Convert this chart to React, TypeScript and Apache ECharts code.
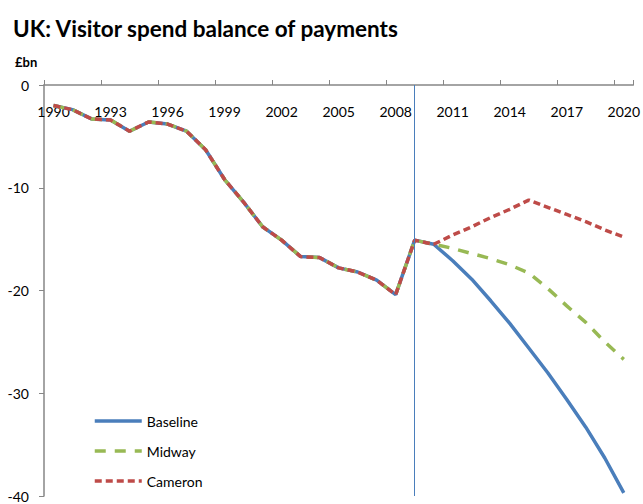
import React, { useEffect, useRef } from "react";
import * as echarts from "echarts";

const years: string[] = [];
for (let y = 1990; y <= 2020; y++) years.push(String(y));

// 1990-2009 (shared history)
const history = [-2.0, -2.4, -3.3, -3.4, -4.5, -3.6, -3.8, -4.5, -6.3, -9.2, -11.4, -13.8, -15.1, -16.7, -16.8, -17.8, -18.2, -19.0, -20.4, -15.1];
// 2010-2020 projections
const baselineProj = [-15.5, -17.1, -18.9, -21.0, -23.2, -25.6, -28.0, -30.6, -33.3, -36.3, -39.7];
const midwayProj = [-15.5, -15.9, -16.4, -16.9, -17.5, -18.3, -19.8, -21.5, -23.1, -25.0, -26.7];
const cameronProj = [-15.5, -14.6, -13.8, -12.9, -12.1, -11.2, -11.9, -12.6, -13.3, -14.1, -14.8];

const seriesNames = ["Baseline", "Midway", "Cameron"];
const markerYear = "2009";

const FONT = "Lato, 'Open Sans', sans-serif";

export default function App() {
  const ref = useRef<HTMLDivElement>(null);
  useEffect(() => {
    if (!ref.current) return;
    const chart = echarts.init(ref.current, undefined, { renderer: "svg" });
    chart.setOption({
      animation: false,
      textStyle: { fontFamily: FONT },
      title: [
        {
          text: "UK: Visitor spend balance of payments",
          left: 8,
          top: 12,
          textStyle: { fontSize: 22.5, fontWeight: "bold", color: "#000", fontFamily: FONT },
        },
        {
          text: "£bn",
          left: 10,
          top: 50,
          textStyle: { fontSize: 13, fontWeight: "bold", color: "#000", fontFamily: FONT },
        },
      ],
      legend: {
        orient: "vertical",
        left: 93,
        top: 414,
        padding: 0,
        itemWidth: 47,
        itemHeight: 14,
        itemGap: 16,
        data: seriesNames,
        itemStyle: { opacity: 0 },
        lineStyle: { width: 3.5 },
        textStyle: { fontSize: 14, color: "#000", fontFamily: FONT },
      },
      grid: { left: 44, right: 8, top: 85, bottom: 8, containLabel: false },
      xAxis: {
        type: "category",
        data: years,
        position: "top",
        boundaryGap: true,
        axisLine: { lineStyle: { color: "#868686", width: 1.5 } },
        axisTick: { show: true, interval: 2, length: 5, inside: false, lineStyle: { color: "#868686" } },
        axisLabel: { inside: true, interval: 2, margin: 19, fontSize: 14, color: "#000", fontFamily: FONT },
        splitLine: { show: false },
      },
      yAxis: {
        type: "value",
        min: -40,
        max: 0,
        interval: 10,
        axisLine: { show: true, lineStyle: { color: "#868686", width: 1.5 } },
        axisTick: { show: true, length: 5, lineStyle: { color: "#868686" } },
        axisLabel: { margin: 15, fontSize: 14, color: "#000", fontFamily: FONT },
        splitLine: { show: false },
      },
      series: [
        {
          name: "Baseline",
          type: "line",
          data: [...history, ...baselineProj],
          symbol: "none",
          z: 2,
          lineStyle: { color: "#4a7ebb", width: 3.5 },
          itemStyle: { color: "#4a7ebb" },
          markLine: {
            silent: true,
            symbol: "none",
            label: { show: false },
            lineStyle: { color: "#4a7ebb", width: 1, type: "solid" },
            data: [{ xAxis: markerYear }],
          },
        },
        {
          name: "Midway",
          type: "line",
          data: [...history, ...midwayProj],
          symbol: "none",
          z: 3,
          lineStyle: { color: "#98b954", width: 3.5, type: [11, 9] },
          itemStyle: { color: "#98b954" },
        },
        {
          name: "Cameron",
          type: "line",
          data: [...history, ...cameronProj],
          symbol: "none",
          z: 4,
          lineStyle: { color: "#be4b48", width: 3.5, type: [7, 4] },
          itemStyle: { color: "#be4b48" },
        },
      ],
    });
    return () => chart.dispose();
  }, []);
  return (
    <div
      ref={ref}
      style={{ position: "fixed", left: 0, top: 0, width: 643, height: 504, background: "#fff" }}
    />
  );
}
